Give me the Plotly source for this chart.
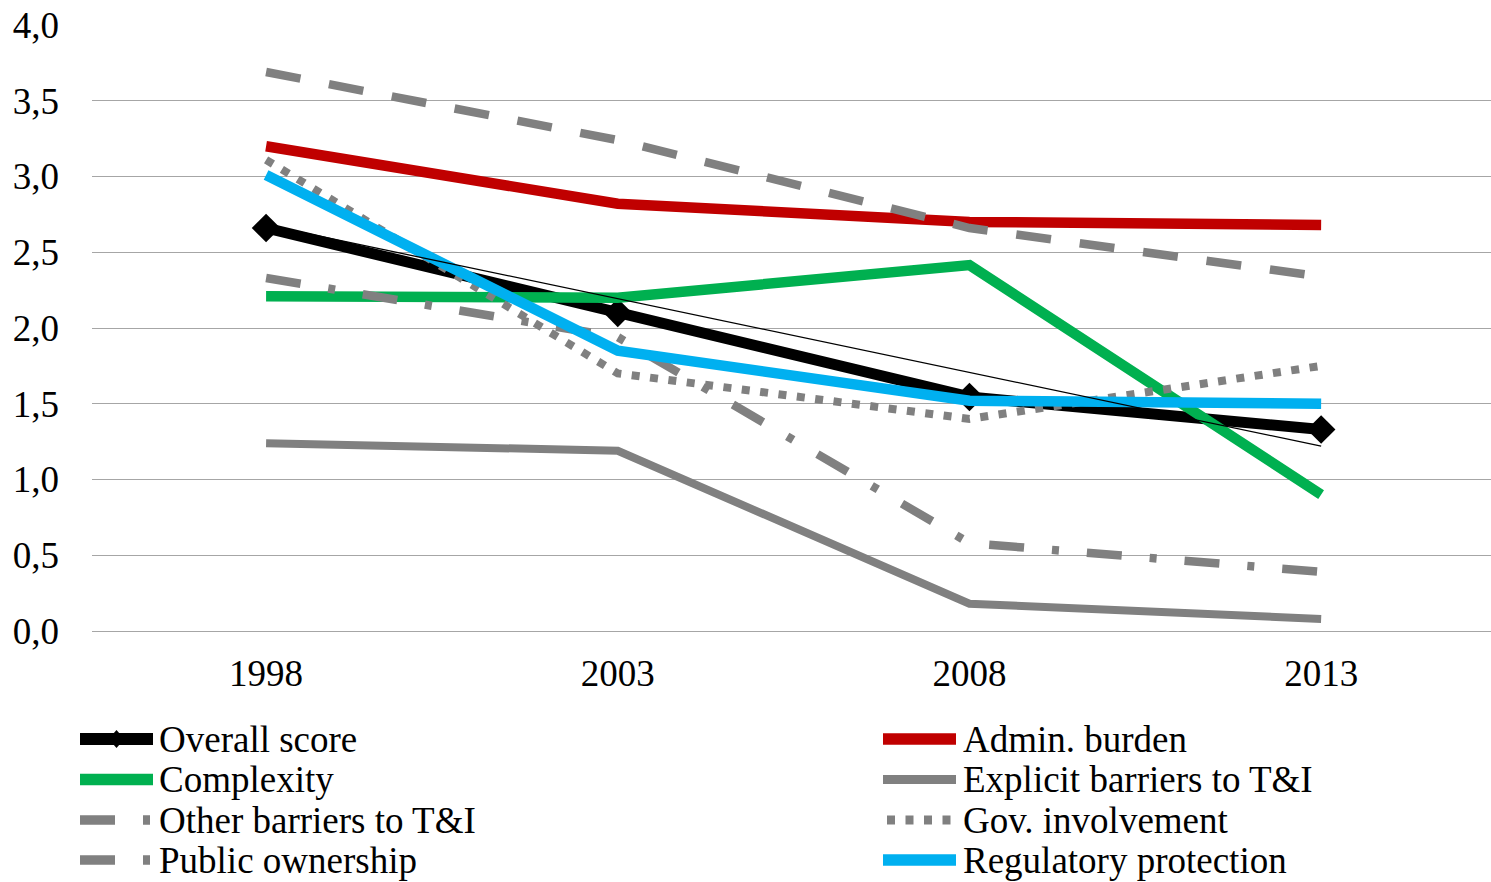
import plotly.graph_objects as go

# ---- data -------------------------------------------------------------
years = ["1998", "2003", "2008", "2013"]

overall_score = [2.66, 2.10, 1.545, 1.33]
overall_trend = [2.68, 1.22]          # linear trend, first and last year
admin_burden = [3.20, 2.82, 2.70, 2.68]
complexity = [2.21, 2.20, 2.415, 0.90]
explicit_barriers = [1.24, 1.19, 0.18, 0.08]
other_barriers = [3.69, 3.24, 2.66, 2.34]
gov_involvement = [3.11, 1.70, 1.40, 1.75]
public_ownership = [2.33, 1.94, 0.58, 0.39]
regulatory_protection = [3.01, 1.85, 1.52, 1.50]

y_ticks = [0.0, 0.5, 1.0, 1.5, 2.0, 2.5, 3.0, 3.5, 4.0]

# ---- styles -----------------------------------------------------------
BLACK = "#000000"
RED = "#C00000"
GREEN = "#00B050"
GRAY = "#808080"
BLUE = "#00B0F0"
FONT = "Liberation Serif"
FS = 37

DASH_LONG = "35px,29px"
DASH_DOT = "35px,28px,7px,28px"
DOTS = "8px,10.5px"

series = [
    ("Overall score", overall_score, BLACK, 11, "solid"),
    ("Admin. burden", admin_burden, RED, 10.5, "solid"),
    ("Complexity", complexity, GREEN, 10.5, "solid"),
    ("Explicit barriers to T&I", explicit_barriers, GRAY, 8, "solid"),
    ("Other barriers to T&I", other_barriers, GRAY, 8.5, DASH_LONG),
    ("Gov. involvement", gov_involvement, GRAY, 8, DOTS),
    ("Public ownership", public_ownership, GRAY, 8.5, DASH_DOT),
    ("Regulatory protection", regulatory_protection, BLUE, 10.5, "solid"),
]

fig = go.Figure()
for name, vals, color, width, dash in series:
    is_overall = name == "Overall score"
    fig.add_trace(go.Scatter(
        x=years, y=vals, name=name,
        mode="lines+markers" if is_overall else "lines",
        line=dict(color=color, width=width, dash=dash),
        marker=dict(symbol="diamond", size=22, color=BLACK) if is_overall else None,
        cliponaxis=False,
        showlegend=False,
    ))

# thin linear trend of the overall score
fig.add_trace(go.Scatter(
    x=[years[0], years[-1]], y=overall_trend, mode="lines",
    line=dict(color=BLACK, width=1.3), showlegend=False, cliponaxis=False,
))

# ---- layout geometry --------------------------------------------------
W, H = 1491, 882
L, R, T, B = 92, 0, 25, 251
PW, PH = W - L - R, H - T - B


def px(x):
    return (x - L) / PW


def py(y):
    return (H - B - y) / PH


# ---- hand-drawn legend (two columns, four rows) -------------------------
rows = [739, 779.5, 820, 860]
cols = [(80, 153, 158), (883, 956, 962)]
legend_layout = [
    ("Overall score", 0, 0), ("Admin. burden", 1, 0),
    ("Complexity", 0, 1), ("Explicit barriers to T&I", 1, 1),
    ("Other barriers to T&I", 0, 2), ("Gov. involvement", 1, 2),
    ("Public ownership", 0, 3), ("Regulatory protection", 1, 3),
]
style = {name: (color, width, dash) for name, _, color, width, dash in series}

shapes = []
annotations = []
for name, c, r in legend_layout:
    x0, x1, xt = cols[c]
    yy = rows[r]
    color, width, dash = style[name]
    if dash in (DASH_LONG, DASH_DOT):
        dash = DASH_DOT
    if dash == DOTS:
        x0 = x0 + 4
    shapes.append(dict(
        type="line", xref="paper", yref="paper",
        x0=px(x0), x1=px(x1), y0=py(yy), y1=py(yy),
        line=dict(color=color, width=width + 1, dash=dash),
    ))
    if name == "Overall score":
        cx = (x0 + x1) / 2
        hw, hh = 8, 9
        path = (f"M {px(cx - hw)},{py(yy)} L {px(cx)},{py(yy - hh)} "
                f"L {px(cx + hw)},{py(yy)} L {px(cx)},{py(yy + hh)} Z")
        shapes.append(dict(type="path", xref="paper", yref="paper", path=path,
                           fillcolor=BLACK, line=dict(color=BLACK, width=0)))
    annotations.append(dict(
        text=name, xref="paper", yref="paper", x=px(xt), y=py(yy),
        xanchor="left", yanchor="middle", showarrow=False,
        font=dict(family=FONT, size=FS, color=BLACK), borderpad=0,
    ))

fig.update_layout(
    width=W, height=H,
    margin=dict(l=L, r=R, t=T, b=B, pad=0),
    paper_bgcolor="white", plot_bgcolor="white",
    separators=", ",
    showlegend=False,
    shapes=shapes,
    annotations=annotations,
    font=dict(family=FONT, size=FS, color=BLACK),
    xaxis=dict(
        type="category", categoryorder="array", categoryarray=years,
        range=[-0.495, 3.483], showgrid=False, zeroline=False, showline=False,
        ticks="", ticklabelstandoff=17,
        tickfont=dict(family=FONT, size=FS, color=BLACK),
    ),
    yaxis=dict(
        range=[0, 4], tickvals=y_ticks, tickformat=".1f",
        showgrid=True, gridcolor="#A6A6A6", gridwidth=1.3,
        zeroline=True, zerolinecolor="#A6A6A6", zerolinewidth=1.3,
        showline=False, ticks="", ticklabelstandoff=32,
        tickfont=dict(family=FONT, size=FS, color=BLACK),
    ),
)

fig.write_html("out.html")
